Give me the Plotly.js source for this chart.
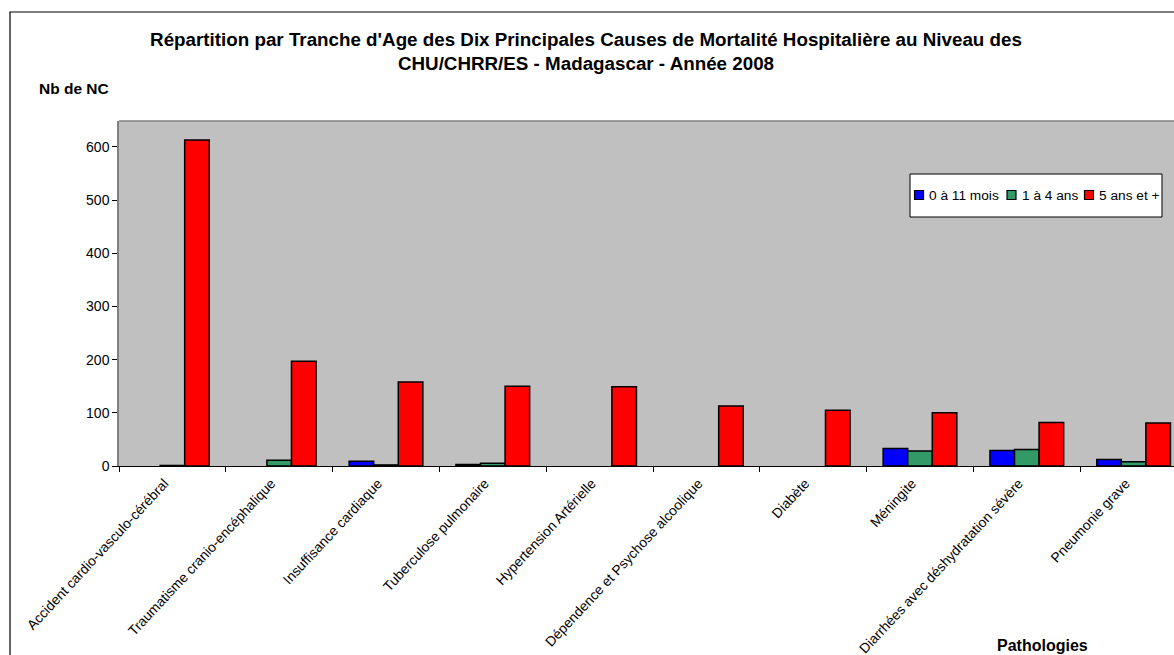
<!DOCTYPE html>
<html>
<head>
<meta charset="utf-8">
<script src="https://cdn.plot.ly/plotly-3.0.1.min.js"></script>
<style>
  html, body { margin: 0; padding: 0; background: #ffffff; overflow: hidden; }
  #chart { width: 1174px; height: 655px; }
</style>
</head>
<body>
<div id="chart"></div>
<script>
// ---- Data ----
const categories = [
  "Accident cardio-vasculo-cérébral",
  "Traumatisme cranio-encéphalique",
  "Insuffisance cardiaque",
  "Tuberculose pulmonaire",
  "Hypertension Artérielle",
  "Dépendence et Psychose alcoolique",
  "Diabète",
  "Méningite",
  "Diarrhées avec déshydratation sévère",
  "Pneumonie grave"
];
const seriesNames = ["0 à 11 mois", "1 à 4 ans", "5 ans et +"];
const values0to11mois = [0, 0, 9, 3, 0, 0, 0, 33, 29, 12];
const values1to4ans   = [1, 11, 2, 5, 0, 0, 0, 28, 31, 8];
const values5ansPlus  = [613, 197, 158, 150, 149, 113, 105, 100, 82, 81];
const yTickValues = [0, 100, 200, 300, 400, 500, 600];

const chartTitle = "Répartition par Tranche d'Age des Dix Principales Causes de Mortalité Hospitalière au Niveau des<br>CHU/CHRR/ES - Madagascar - Année 2008";
const yTitle = "Nb de NC";
const xTitle = "Pathologies";

// ---- Styling / layout ----
const colors = ["#0000FF", "#339966", "#FF0000"];
const W = 1174, H = 655;
const L = 119, R = 0, T = 121, B = 189;
const plotW = W - L - R, plotH = H - T - B;
const px2x = px => (px - L) / plotW;
const py2y = py => (H - B - py) / plotH;
const FONT = "Liberation Sans, Arial, Helvetica, sans-serif";

const allValues = [values0to11mois, values1to4ans, values5ansPlus];
const traces = allValues.map((vals, i) => ({
  type: "bar",
  name: seriesNames[i],
  x: categories,
  y: vals,
  marker: { color: colors[i], line: { color: "#000000", width: vals.map(v => (v ? 1.5 : 0)) } },
  hoverinfo: "x+y+name"
}));

// custom legend (Excel style, compact)
const legendBox = { x0: 910, y0: 174, x1: 1162, y1: 217 };
const legendSquaresX = [914.5, 1007, 1084.5];
const legendTextX = [927, 1019.5, 1096.5];
const legendCY = 195;
const sq = 9;

const shapes = [
  // outer chart border
  { type: "rect", xref: "paper", yref: "paper",
    x0: px2x(10), x1: px2x(1200), y0: py2y(700), y1: py2y(12),
    line: { color: "#000000", width: 1.2 }, fillcolor: "rgba(0,0,0,0)", layer: "below" },
  // plot area top border
  { type: "line", xref: "paper", yref: "paper",
    x0: 0, x1: 1, y0: 1, y1: 1, line: { color: "#808080", width: 1.5 } },
  // legend box
  { type: "rect", xref: "paper", yref: "paper",
    x0: px2x(legendBox.x0), x1: px2x(legendBox.x1), y0: py2y(legendBox.y1), y1: py2y(legendBox.y0),
    line: { color: "#000000", width: 1 }, fillcolor: "#FFFFFF" }
];
const annotations = [
  { text: "<b>" + yTitle + "</b>", xref: "paper", yref: "paper", x: px2x(37), y: py2y(89),
    xanchor: "left", yanchor: "middle", showarrow: false, font: { family: FONT, size: 15.5, color: "#000" } },
  { text: "<b>" + xTitle + "</b>", xref: "paper", yref: "paper", x: px2x(1042), y: py2y(645),
    xanchor: "center", yanchor: "middle", showarrow: false, font: { family: FONT, size: 16, color: "#000" } }
];
seriesNames.forEach((n, i) => {
  shapes.push({ type: "rect", xref: "paper", yref: "paper",
    x0: px2x(legendSquaresX[i]), x1: px2x(legendSquaresX[i] + sq),
    y0: py2y(legendCY + sq / 2), y1: py2y(legendCY - sq / 2),
    fillcolor: colors[i], line: { color: "#000000", width: 1.2 } });
  annotations.push({ text: n, xref: "paper", yref: "paper", x: px2x(legendTextX[i]), y: py2y(legendCY),
    xanchor: "left", yanchor: "middle", showarrow: false,
    font: { family: FONT, size: 13.7, color: "#000" } });
});

const layout = {
  width: W, height: H,
  margin: { l: L, r: R, t: T, b: B, pad: 0 },
  paper_bgcolor: "#FFFFFF",
  plot_bgcolor: "#C0C0C0",
  font: { family: FONT, size: 14, color: "#000000" },
  showlegend: false,
  barmode: "group",
  bargap: 0.31,
  bargroupgap: 0,
  title: {
    text: "<b>" + chartTitle + "</b>",
    font: { family: FONT, size: 18.8, color: "#000000" },
    xref: "container", yref: "container",
    x: 586 / W, xanchor: "center",
    y: 1 - 46 / H, yanchor: "top"
  },
  xaxis: {
    type: "category",
    range: [-0.5, -0.5 + plotW / 106.8],
    showgrid: false, zeroline: false,
    showline: true, linecolor: "#000000", linewidth: 1,
    ticks: "outside", tickson: "boundaries", ticklen: 5, tickcolor: "#000000", tickwidth: 1,
    tickangle: -47,
    ticklabelshift: -8,
    ticklabelstandoff: 3,
    tickfont: { family: FONT, size: 13.8, color: "#000" },
    fixedrange: true
  },
  yaxis: {
    range: [0, (H - B - T) / 0.5317],
    tickvals: yTickValues,
    showgrid: false, zeroline: false,
    showline: true, linecolor: "#808080", linewidth: 1.5,
    ticks: "outside", ticklen: 5, tickcolor: "#000000", tickwidth: 1,
    tickfont: { family: FONT, size: 14, color: "#000" },
    fixedrange: true
  },
  shapes: shapes,
  annotations: annotations
};

Plotly.newPlot("chart", traces, layout, { displayModeBar: false, staticPlot: false });
</script>
</body>
</html>
